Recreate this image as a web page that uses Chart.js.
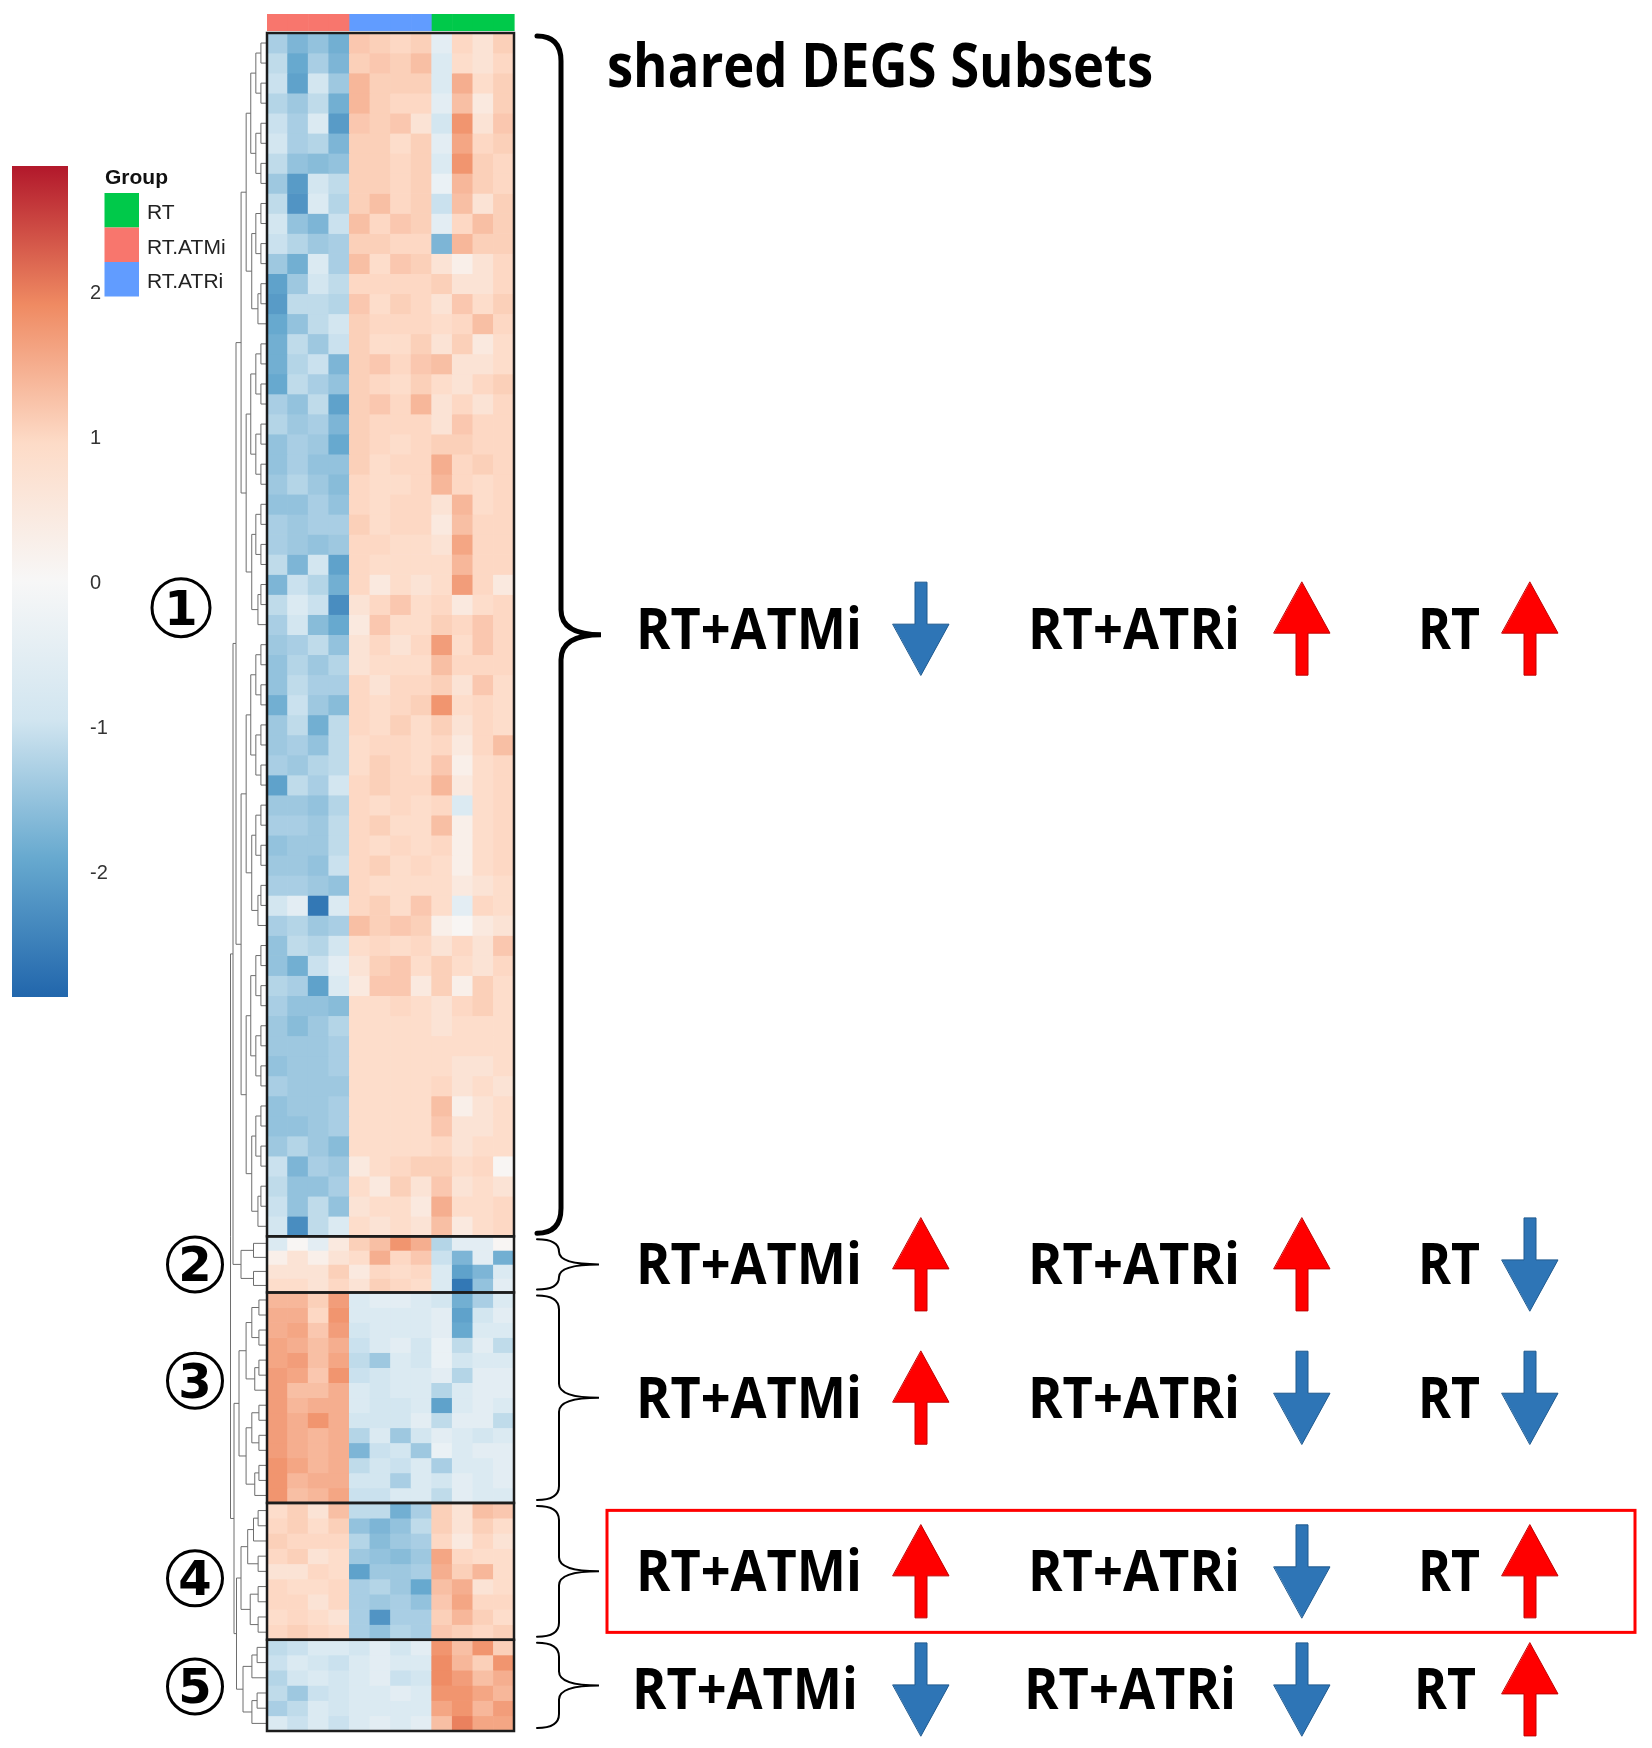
<!DOCTYPE html>
<html>
<head>
<meta charset="utf-8">
<script src="https://cdn.jsdelivr.net/npm/chart.js@4.4.1/dist/chart.umd.min.js"></script>
<style>
  html, body { margin: 0; background: #fff; }
  #wrap { position: relative; width: 1652px; height: 1748px; }
  canvas { position: absolute; left: 0; top: 0; }
</style>
</head>
<body>
<div id="wrap">
  <canvas id="heat" width="1652" height="1748"></canvas>
  <canvas id="scale" width="140" height="1748"></canvas>
</div>
<script>
// samples (columns) and their groups
const sampleNames = ['RT.ATMi_1', 'RT.ATMi_2', 'RT.ATMi_3', 'RT.ATMi_4',
                     'RT.ATRi_1', 'RT.ATRi_2', 'RT.ATRi_3', 'RT.ATRi_4',
                     'RT_1', 'RT_2', 'RT_3', 'RT_4'];
const sampleGroups = ['RT.ATMi', 'RT.ATMi', 'RT.ATMi', 'RT.ATMi',
                      'RT.ATRi', 'RT.ATRi', 'RT.ATRi', 'RT.ATRi',
                      'RT', 'RT', 'RT', 'RT'];
const groupNames = ['RT', 'RT.ATMi', 'RT.ATRi'];
const groupColors = ['#00C94A', '#F8766D', '#619CFF'];

// gene clusters (approx. number of genes in each) and z-scores, one row per band of genes
const clusterGenes = [343, 16, 60, 39, 26];

const subset1 = [
  [-1.3,-1.7,-1.5,-1.8, 1.2,1.1,1.0,1.1, -0.5,1.0,0.7,1.1],
  [-1.1,-1.9,-1.3,-1.7, 1.1,1.2,1.1,1.3, -0.7,0.9,0.7,1.0],
  [-1.0,-2.0,-0.9,-1.4, 1.4,1.1,1.1,1.1, -0.7,1.5,0.9,1.1],
  [-1.2,-1.4,-1.1,-1.8, 1.4,1.1,1.0,1.0, -0.5,1.3,0.5,1.1],
  [-1.0,-1.3,-0.7,-2.1, 1.2,1.1,1.2,0.7, -0.9,1.8,0.7,1.2],
  [-0.9,-1.3,-1.2,-1.7, 1.1,1.1,0.9,1.1, -0.5,1.6,1.0,1.1],
  [-1.1,-1.5,-1.6,-1.5, 1.1,1.1,1.0,1.1, -0.7,1.8,1.1,1.0],
  [-1.4,-2.1,-0.9,-1.1, 1.1,1.1,1.0,1.1, -0.3,1.4,1.1,1.0],
  [-1.1,-2.2,-0.7,-1.2, 1.1,1.3,1.0,1.1, -1.0,1.3,0.7,1.1],
  [-0.9,-1.5,-1.7,-1.0, 1.3,1.0,1.2,1.1, -0.5,1.0,1.3,1.1],
  [-1.0,-1.2,-1.4,-1.3, 1.1,1.1,1.0,1.0, -1.7,1.4,1.1,1.1],
  [-1.4,-1.8,-0.7,-1.3, 1.3,0.9,1.2,1.1, 0.7,0.3,0.7,1.0],
  [-2.0,-1.4,-0.9,-1.1, 1.0,1.0,1.0,1.0, 1.1,0.7,0.7,1.0],
  [-2.1,-1.1,-1.1,-1.2, 1.2,0.9,1.1,1.0, 0.7,1.2,0.9,1.1],
  [-1.9,-1.5,-1.1,-0.9, 1.1,1.0,1.0,1.0, 0.9,1.0,1.3,1.0],
  [-1.8,-1.1,-1.4,-1.0, 1.1,0.9,0.9,1.1, 0.7,1.1,0.5,0.9],
  [-1.8,-1.2,-1.0,-1.7, 1.1,1.2,1.0,1.2, 1.3,0.7,0.7,0.9],
  [-1.9,-1.1,-1.3,-1.5, 1.1,1.0,0.9,1.1, 0.9,0.7,1.0,1.1],
  [-1.3,-1.5,-1.1,-2.0, 1.1,1.2,1.0,1.4, 0.7,1.0,0.7,1.0],
  [-1.2,-1.4,-1.3,-1.7, 1.1,1.0,1.0,1.0, 0.7,1.2,1.0,1.0],
  [-1.5,-1.3,-1.4,-1.9, 1.1,1.0,0.9,1.0, 1.1,1.1,1.0,1.0],
  [-1.5,-1.3,-1.5,-1.5, 1.1,0.9,1.0,1.0, 1.5,1.0,1.1,1.0],
  [-1.4,-1.2,-1.4,-1.6, 1.0,0.9,0.9,1.0, 1.4,1.0,0.9,1.0],
  [-1.5,-1.5,-1.3,-1.5, 1.0,0.9,1.0,1.0, 0.7,1.4,0.9,1.0],
  [-1.3,-1.4,-1.3,-1.3, 1.1,0.9,1.0,1.0, 0.5,1.3,1.0,1.0],
  [-1.3,-1.4,-1.5,-1.4, 1.0,1.0,0.9,0.9, 0.7,1.6,1.0,1.0],
  [-1.1,-1.7,-0.9,-2.0, 1.0,0.9,0.9,0.9, 0.9,1.4,1.0,1.0],
  [-1.7,-1.0,-1.2,-1.8, 1.0,0.5,0.9,0.7, 0.9,1.7,1.0,0.5],
  [-1.1,-0.7,-1.0,-2.3, 0.7,1.0,1.2,0.9, 1.0,0.5,0.9,1.0],
  [-1.3,-0.9,-1.6,-1.9, 0.5,1.2,0.9,0.9, 1.1,1.0,1.2,1.0],
  [-1.4,-1.3,-1.1,-1.5, 0.7,1.0,0.7,1.0, 1.7,0.9,1.2,1.0],
  [-1.5,-1.2,-1.4,-1.2, 0.7,0.9,0.9,0.9, 1.3,1.0,1.0,1.0],
  [-1.5,-1.1,-1.3,-1.3, 1.0,0.7,1.0,1.0, 1.1,0.7,1.2,0.9],
  [-1.8,-1.0,-1.4,-1.6, 1.0,0.9,1.0,1.1, 1.8,0.9,1.0,0.9],
  [-1.4,-1.1,-1.8,-1.1, 1.0,0.9,1.1,0.9, 1.1,0.7,1.0,0.9],
  [-1.4,-1.3,-1.5,-1.1, 0.9,1.0,1.0,0.9, 1.0,0.5,1.0,1.3],
  [-1.3,-1.4,-1.2,-1.1, 0.9,1.1,1.0,0.9, 1.2,0.3,0.9,1.0],
  [-2.0,-1.1,-1.3,-0.9, 1.0,1.1,1.0,1.0, 1.4,0.5,0.9,1.0],
  [-1.4,-1.4,-1.5,-1.2, 1.0,0.9,1.0,0.9, 1.0,-0.7,0.9,1.0],
  [-1.3,-1.3,-1.4,-1.1, 1.0,1.1,0.9,0.9, 1.3,0.3,0.9,1.0],
  [-1.5,-1.4,-1.4,-1.1, 1.0,0.9,1.0,0.9, 1.0,0.3,0.9,1.0],
  [-1.4,-1.4,-1.5,-1.0, 1.0,1.1,0.9,1.0, 0.9,0.3,0.9,1.0],
  [-1.3,-1.3,-1.4,-1.5, 1.0,0.9,0.9,0.9, 0.9,0.5,0.7,0.9],
  [-0.9,-0.5,-2.6,-0.7, 1.0,1.1,0.9,1.2, 0.9,-0.5,1.0,0.9],
  [-1.3,-1.2,-1.4,-1.3, 1.3,1.1,1.2,1.1, 0.3,0.1,0.5,0.7],
  [-1.5,-1.1,-1.2,-0.9, 0.9,1.0,0.9,1.0, 0.7,1.0,0.7,1.2],
  [-1.5,-1.8,-1.0,-0.5, 0.7,1.1,1.2,0.9, 1.1,0.9,0.7,1.0],
  [-1.2,-1.3,-2.0,-0.7, 0.5,1.2,1.2,0.5, 1.1,0.3,1.1,0.9],
  [-1.3,-1.5,-1.5,-1.6, 0.9,0.9,1.0,0.9, 0.7,1.0,1.1,0.9],
  [-1.4,-1.6,-1.4,-1.2, 0.9,0.9,0.9,0.9, 0.7,0.9,0.9,0.9],
  [-1.4,-1.4,-1.4,-1.3, 0.9,0.9,0.9,0.9, 0.9,0.9,0.9,0.9],
  [-1.5,-1.4,-1.4,-1.3, 0.9,0.9,0.9,0.9, 0.9,0.7,0.7,0.9],
  [-1.3,-1.4,-1.4,-1.4, 0.9,0.9,0.9,0.9, 1.0,0.7,0.9,0.7],
  [-1.5,-1.4,-1.4,-1.3, 0.9,0.9,0.9,0.9, 1.3,0.3,0.7,0.9],
  [-1.5,-1.5,-1.4,-1.3, 0.9,0.9,0.9,0.9, 1.2,0.7,0.7,0.9],
  [-1.4,-1.2,-1.4,-1.6, 0.9,0.9,0.9,0.9, 1.0,0.7,0.9,0.9],
  [-1.0,-1.7,-1.3,-1.4, 0.5,0.9,1.0,1.1, 1.1,0.9,1.0,0.1],
  [-1.1,-1.5,-1.5,-1.3, 0.9,0.5,1.1,0.7, 1.2,0.7,0.9,0.7],
  [-1.0,-1.5,-1.1,-1.5, 0.7,0.9,0.9,0.5, 1.5,0.9,0.9,1.0],
  [-0.9,-2.3,-1.1,-0.7, 0.9,0.7,0.9,0.7, 1.3,0.5,0.9,1.0]
];

const subset2 = [
  [-0.7,0.1,-0.5,0.5, 1.1,1.3,1.8,1.5, -1.2,-0.5,-0.5,0.1],
  [0.3,0.7,0.3,0.7, 0.9,1.5,1.0,1.2, -1.0,-1.7,-0.5,-1.8],
  [0.7,0.7,0.7,1.1, 0.5,1.0,0.9,1.0, -0.7,-2.0,-1.7,-0.7],
  [0.9,0.9,0.7,1.0, 0.7,1.1,1.0,0.9, -0.7,-2.6,-1.5,-0.5]
];

const subset3 = [
  [1.4,1.4,1.1,1.7, -0.7,-0.5,-0.5,-0.7, -0.9,-1.8,-1.3,-0.7],
  [1.5,1.5,1.0,1.8, -0.7,-0.7,-0.7,-0.7, -0.5,-2.0,-0.9,-0.5],
  [1.5,1.6,1.2,1.7, -0.9,-0.7,-0.7,-0.7, -0.5,-1.9,-0.7,-0.7],
  [1.6,1.5,1.3,1.5, -1.0,-0.7,-0.5,-0.9, -0.3,-1.1,-0.5,-1.1],
  [1.6,1.7,1.3,1.6, -1.1,-1.4,-0.7,-0.9, -0.3,-0.9,-0.7,-0.7],
  [1.7,1.6,1.2,1.8, -1.0,-0.9,-0.7,-0.7, -0.5,-1.2,-0.5,-0.5],
  [1.7,1.3,1.3,1.5, -0.7,-0.9,-0.7,-0.7, -1.2,-0.7,-0.5,-0.5],
  [1.7,1.4,1.5,1.5, -0.7,-0.9,-0.9,-0.7, -2.0,-0.7,-0.5,-0.7],
  [1.7,1.5,1.8,1.5, -0.9,-0.9,-0.9,-0.5, -1.1,-0.5,-0.5,-1.1],
  [1.7,1.5,1.4,1.5, -1.2,-0.7,-1.4,-0.9, -0.5,-0.7,-0.9,-0.7],
  [1.7,1.5,1.4,1.5, -1.7,-1.0,-0.9,-1.4, -0.3,-0.7,-0.5,-0.5],
  [1.8,1.6,1.4,1.5, -1.1,-0.9,-1.0,-0.7, -1.3,-0.7,-0.7,-0.5],
  [1.8,1.4,1.5,1.5, -0.9,-0.9,-1.3,-0.7, -0.9,-0.5,-0.7,-0.5],
  [1.8,1.3,1.4,1.6, -1.0,-1.0,-0.7,-0.7, -1.1,-0.5,-0.7,-0.7]
];

const subset4 = [
  [0.9,1.1,0.7,1.3, -1.1,-1.1,-1.8,-1.3, 1.1,0.7,1.3,1.2],
  [1.0,1.1,0.9,1.1, -1.5,-1.7,-1.5,-1.1, 1.1,0.7,1.1,0.9],
  [1.1,1.0,1.0,1.0, -1.2,-1.6,-1.4,-1.3, 1.0,0.5,1.0,0.7],
  [1.0,1.1,0.7,0.9, -1.4,-1.5,-1.6,-1.4, 1.6,1.0,0.9,0.9],
  [0.7,0.7,1.0,0.9, -2.0,-1.4,-1.4,-1.3, 1.5,1.1,1.4,0.9],
  [1.0,0.9,0.9,1.0, -1.3,-1.2,-1.4,-1.9, 1.3,1.5,0.7,0.9],
  [1.0,1.0,0.7,1.0, -1.3,-1.4,-1.3,-1.5, 1.2,1.6,1.0,1.0],
  [0.9,1.0,0.9,0.7, -1.3,-2.2,-1.3,-1.3, 1.1,1.4,1.1,0.9],
  [1.0,1.1,1.0,0.9, -1.3,-1.5,-1.2,-1.3, 1.2,1.1,1.0,1.1]
];

const subset5 = [
  [-1.1,-1.0,-0.7,-0.7, -0.9,-0.5,-0.9,-0.5, 1.8,1.3,1.8,1.1],
  [-1.0,-0.7,-0.9,-1.0, -0.7,-0.5,-0.7,-0.7, 1.9,1.4,1.1,1.8],
  [-1.2,-0.9,-0.7,-0.9, -0.7,-0.5,-1.0,-0.9, 1.9,1.7,1.3,1.5],
  [-1.1,-1.4,-1.0,-0.9, -0.7,-0.7,-0.5,-0.7, 1.8,1.8,1.6,1.4],
  [-1.3,-1.1,-0.7,-0.9, -0.7,-0.7,-0.7,-0.7, 1.6,1.8,1.4,1.7],
  [-0.7,-1.0,-0.7,-1.0, -0.7,-0.5,-0.7,-0.5, 1.3,2.0,1.6,1.6]
];

// colour key
const colorTicks = [-2, -1, 0, 1, 2];
const colorRange = [-2.85, 2.88];
const rdbu = ['#2166AC', '#67A9CF', '#D1E5F0', '#F7F7F7', '#FDDBC7', '#EF8A62', '#B2182B'];

// annotations on the right
const titleText = 'shared DEGS Subsets';
const conditionLabels = ['RT+ATMi', 'RT+ATRi', 'RT'];
const subsetArrows = [
  ['down', 'up', 'up'],
  ['up', 'up', 'down'],
  ['up', 'down', 'down'],
  ['up', 'down', 'up'],
  ['down', 'down', 'up']
];
const highlightedSubset = 3;

const subsets = [subset1, subset2, subset3, subset4, subset5];

function hexToRgb(h) {
  return [parseInt(h.slice(1, 3), 16), parseInt(h.slice(3, 5), 16), parseInt(h.slice(5, 7), 16)];
}
const rdbuRgb = rdbu.map(hexToRgb);

function zColor(v) {
  let t = (v - colorRange[0]) / (colorRange[1] - colorRange[0]);
  t = Math.max(0, Math.min(1, t)) * (rdbu.length - 1);
  const i = Math.min(Math.floor(t), rdbu.length - 2);
  const f = t - i;
  const a = rdbuRgb[i], b = rdbuRgb[i + 1];
  const c = a.map((av, k) => Math.round(av + (b[k] - av) * f));
  return 'rgb(' + c.join(',') + ')';
}

// one stacked dataset per band of genes
const datasets = [];
subsets.forEach(function (rows, c) {
  const w = clusterGenes[c] / rows.length;
  rows.forEach(function (row) {
    datasets.push({
      data: row.map(() => w),
      backgroundColor: row.map(zColor),
      borderWidth: 0,
      barPercentage: 1,
      categoryPercentage: 1
    });
  });
});

const totalGenes = clusterGenes.reduce((s, g) => s + g, 0);

// layout of the hand-drawn annotations
const layout = {
  circleX: [181, 195, 195, 195, 195],
  circleDy: [-27, 0, -17, 7, 1],
  circleR: [29, 27.5, 27.5, 27.5, 27.5],
  rowDy: [-6, 0, 0, 0, 4],
  labelX: [636, 1028, 1418],
  labelW: [226, 212, 62],
  arrowX: [921, 1302, 1530],
  dendroRootX: [236, 241, 239, 241, 243]
};

function fitText(ctx, str, x, base, width, font) {
  ctx.font = font;
  const m = ctx.measureText(str).width;
  ctx.save();
  ctx.translate(x, base);
  ctx.scale(width / m, 1);
  ctx.fillText(str, 0, 0);
  ctx.restore();
}

function drawArrow(ctx, cx, cy, dir) {
  const H = 93, hw = 28, sw = 6, hh = 51;
  const t = cy - H / 2, b = cy + H / 2;
  ctx.beginPath();
  if (dir === 'up') {
    ctx.moveTo(cx, t);
    ctx.lineTo(cx + hw, t + hh);
    ctx.lineTo(cx + sw, t + hh);
    ctx.lineTo(cx + sw, b);
    ctx.lineTo(cx - sw, b);
    ctx.lineTo(cx - sw, t + hh);
    ctx.lineTo(cx - hw, t + hh);
    ctx.fillStyle = '#FF0000';
    ctx.strokeStyle = '#C00000';
  } else {
    ctx.moveTo(cx, b);
    ctx.lineTo(cx + hw, b - hh);
    ctx.lineTo(cx + sw, b - hh);
    ctx.lineTo(cx + sw, t);
    ctx.lineTo(cx - sw, t);
    ctx.lineTo(cx - sw, b - hh);
    ctx.lineTo(cx - hw, b - hh);
    ctx.fillStyle = '#2E75B6';
    ctx.strokeStyle = '#1F5A8F';
  }
  ctx.closePath();
  ctx.fill();
  ctx.lineWidth = 1;
  ctx.stroke();
}

function drawBrace(ctx, x0, xs, xt, y0, y1, ym, r) {
  ctx.beginPath();
  ctx.moveTo(x0, y0);
  ctx.quadraticCurveTo(xs, y0, xs, y0 + r);
  ctx.lineTo(xs, ym - r);
  ctx.quadraticCurveTo(xs, ym, xt, ym);
  ctx.quadraticCurveTo(xs, ym, xs, ym + r);
  ctx.lineTo(xs, y1 - r);
  ctx.quadraticCurveTo(xs, y1, x0, y1);
  ctx.stroke();
}

const decor = {
  id: 'decor',
  afterDatasetsDraw(chart) {
    const ctx = chart.ctx;
    const a = chart.chartArea;
    const x = chart.scales.x, y = chart.scales.y;
    const bounds = [0];
    clusterGenes.forEach(g => bounds.push(bounds[bounds.length - 1] + g));
    const yAt = i => y.getPixelForValue(bounds[i]);
    const mid = i => (yAt(i) + yAt(i + 1)) / 2;
    const colW = (a.right - a.left) / sampleNames.length;

    ctx.save();

    // group annotation bar
    sampleGroups.forEach(function (g, j) {
      ctx.fillStyle = groupColors[groupNames.indexOf(g)];
      const cx = x.getPixelForValue(j);
      ctx.fillRect(cx - colW / 2, a.top - 19, colW + 0.6, 17);
    });

    // dendrogram
    ctx.strokeStyle = '#6e6e6e';
    ctx.lineWidth = 1;
    const leafX = a.left - 1;
    function seg(x1, y1, x2, y2) {
      ctx.beginPath();
      ctx.moveTo(x1, y1);
      ctx.lineTo(x2, y2);
      ctx.stroke();
    }
    function join(l, r, nx) {
      seg(nx, l.y, nx, r.y);
      seg(nx, l.y, l.x, l.y);
      seg(nx, r.y, r.x, r.y);
      return { x: nx, y: (l.y + r.y) / 2 };
    }
    function build(nodes, rootX, N) {
      if (nodes.length === 1) return nodes[0];
      const h = Math.ceil(nodes.length / 2);
      const l = build(nodes.slice(0, h), rootX, N);
      const r = build(nodes.slice(h), rootX, N);
      const nx = leafX - (leafX - rootX) * Math.log2(nodes.length) / Math.log2(N);
      return join(l, r, nx);
    }
    const roots = subsets.map(function (rows, c) {
      const w = clusterGenes[c] / rows.length;
      const leaves = rows.map((row, k) => ({ x: leafX, y: y.getPixelForValue(bounds[c] + (k + 0.5) * w) }));
      return build(leaves, layout.dendroRootX[c], leaves.length);
    });
    const nodeA = join(roots[0], roots[1], 233);
    const nodeB = join(roots[3], roots[4], 236.5);
    const nodeC = join(roots[2], nodeB, 234);
    join(nodeA, nodeC, 230.5);

    // cluster boxes
    ctx.strokeStyle = '#1c1c1c';
    ctx.lineWidth = 2.5;
    clusterGenes.forEach(function (g, i) {
      ctx.strokeRect(a.left, yAt(i), a.right - a.left, yAt(i + 1) - yAt(i));
    });

    // group legend
    ctx.fillStyle = '#111';
    ctx.font = 'bold 21px "Liberation Sans", Arial, sans-serif';
    ctx.textBaseline = 'alphabetic';
    ctx.textAlign = 'left';
    ctx.fillText('Group', 105, 184);
    groupNames.forEach(function (g, i) {
      const top = 193 + i * 34.5;
      ctx.fillStyle = groupColors[i];
      ctx.fillRect(104.5, top, 34.5, 34.5);
      ctx.fillStyle = '#222';
      ctx.font = '21px "Liberation Sans", Arial, sans-serif';
      ctx.fillText(g, 147, top + 26);
    });

    // circled subset numbers
    clusterGenes.forEach(function (g, i) {
      const cx = layout.circleX[i], cy = mid(i) + layout.circleDy[i];
      ctx.beginPath();
      ctx.arc(cx, cy, layout.circleR[i], 0, Math.PI * 2);
      ctx.strokeStyle = '#000';
      ctx.lineWidth = 3;
      ctx.stroke();
      ctx.fillStyle = '#000';
      ctx.font = 'bold 48px "DejaVu Sans", sans-serif';
      ctx.textAlign = 'center';
      ctx.fillText(String(i + 1), cx, cy + 17);
    });
    ctx.textAlign = 'left';

    // braces
    ctx.strokeStyle = '#000';
    ctx.lineCap = 'round';
    clusterGenes.forEach(function (g, i) {
      const y0 = yAt(i) + 3, y1 = yAt(i + 1) - 3, ym = mid(i);
      if (i === 0) {
        ctx.lineWidth = 5;
        drawBrace(ctx, 537, 561, 601, y0, y1, ym, 25);
      } else {
        ctx.lineWidth = 2;
        drawBrace(ctx, 537, 559, 599, y0, y1, ym, Math.min(14, (ym - y0) / 2));
      }
    });

    // title
    ctx.fillStyle = '#000';
    fitText(ctx, titleText, 607, 87, 546, 'bold 60px "Open Sans", sans-serif');

    // subset rows: labels and arrows
    subsetArrows.forEach(function (dirs, i) {
      const cy = mid(i) + layout.rowDy[i];
      const shift = i === 4 ? -4 : 0;
      conditionLabels.forEach(function (lab, k) {
        ctx.fillStyle = '#000';
        fitText(ctx, lab, layout.labelX[k] + shift, cy + 20, layout.labelW[k], 'bold 57px "Open Sans", sans-serif');
        drawArrow(ctx, layout.arrowX[k], cy, dirs[k]);
      });
    });

    // highlight box
    const hy = mid(highlightedSubset) + layout.rowDy[highlightedSubset];
    ctx.strokeStyle = '#FF0000';
    ctx.lineWidth = 3;
    ctx.strokeRect(607, hy - 61, 1028, 122);

    ctx.restore();
  }
};

new Chart(document.getElementById('heat'), {
  type: 'bar',
  data: { labels: sampleNames, datasets: datasets },
  options: {
    responsive: false,
    animation: false,
    layout: { padding: { left: 267, right: 1138, top: 33, bottom: 17 } },
    plugins: { legend: { display: false }, tooltip: { enabled: false } },
    scales: {
      x: { display: false, stacked: true },
      y: { display: false, stacked: true, reverse: true, min: 0, max: totalGenes }
    }
  },
  plugins: [decor]
});

// colour key as its own small chart
new Chart(document.getElementById('scale'), {
  type: 'bar',
  data: {
    labels: ['z'],
    datasets: [{
      data: [colorRange],
      borderWidth: 0,
      barPercentage: 1,
      categoryPercentage: 1,
      backgroundColor: function (c) {
        const area = c.chart.chartArea;
        if (!area) return rdbu[3];
        const g = c.chart.ctx.createLinearGradient(0, area.bottom, 0, area.top);
        rdbu.forEach((col, i) => g.addColorStop(i / (rdbu.length - 1), col));
        return g;
      }
    }]
  },
  options: {
    responsive: false,
    animation: false,
    layout: { padding: { left: 12, right: 22, top: 166, bottom: 751 } },
    plugins: { legend: { display: false }, tooltip: { enabled: false } },
    scales: {
      x: { display: false },
      y: {
        position: 'right',
        min: colorRange[0],
        max: colorRange[1],
        afterBuildTicks: axis => { axis.ticks = colorTicks.map(v => ({ value: v })); },
        afterFit: axis => { axis.width = 50; },
        grid: { display: false, drawTicks: false },
        border: { display: false },
        ticks: {
          color: '#333',
          padding: 22,
          font: { size: 20, family: '"Liberation Sans", Arial, sans-serif' }
        }
      }
    }
  }
});
</script>
</body>
</html>
